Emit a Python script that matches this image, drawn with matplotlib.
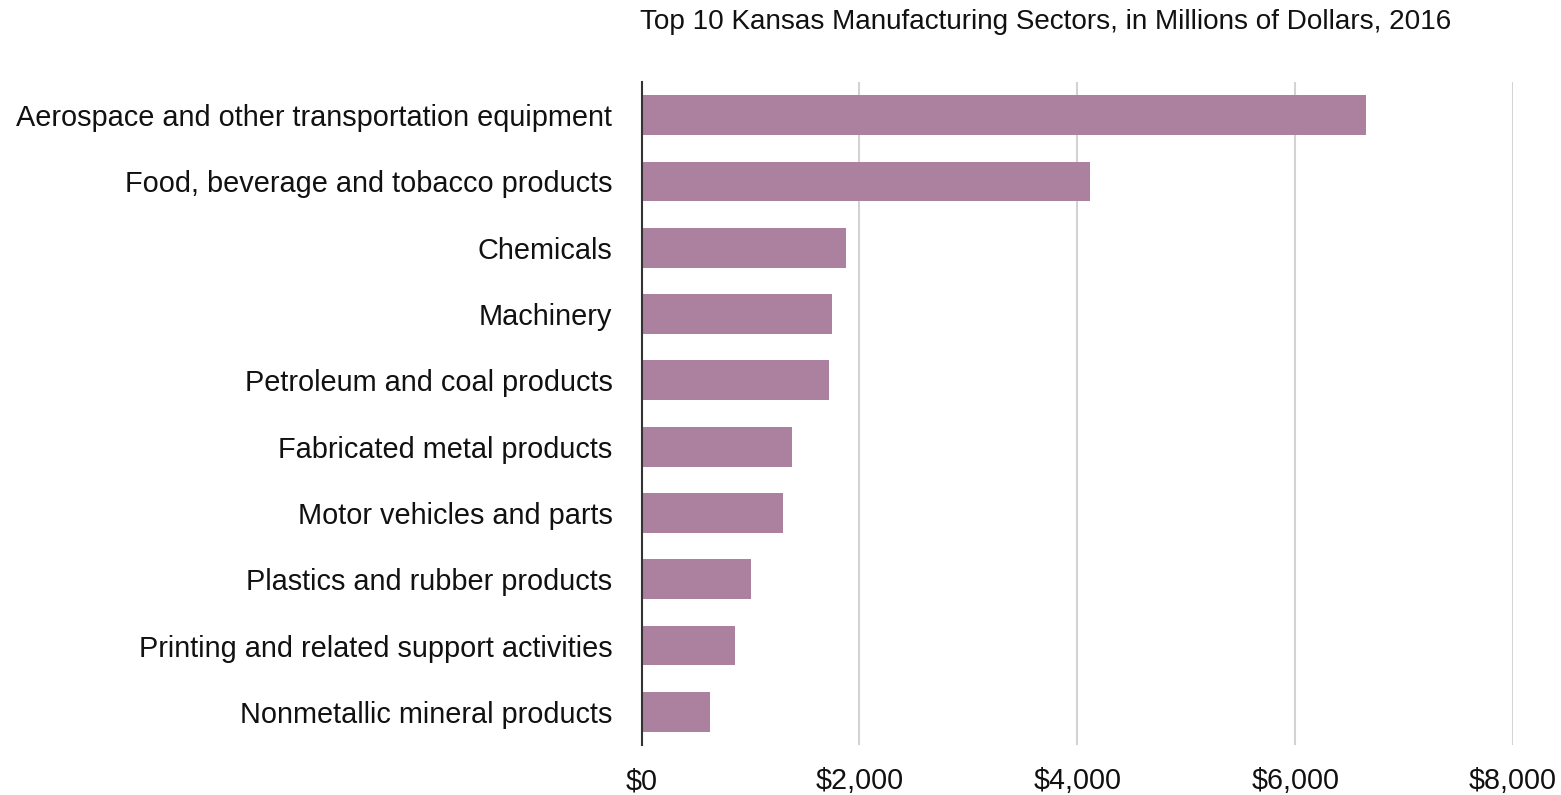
import matplotlib.pyplot as plt
from matplotlib.ticker import FuncFormatter

plt.rcParams['font.family'] = ['Liberation Sans', 'DejaVu Sans']

# sectors and output, millions of dollars
sectors = ['Aerospace and other transportation equipment',
           'Food, beverage and tobacco products',
           'Chemicals',
           'Machinery',
           'Petroleum and coal products',
           'Fabricated metal products',
           'Motor vehicles and parts',
           'Plastics and rubber products',
           'Printing and related support activities',
           'Nonmetallic mineral products']
values = [6650, 4120, 1875, 1745, 1725, 1385, 1300, 1000, 860, 632]
xticks = [0, 2000, 4000, 6000, 8000]

fig = plt.figure(figsize=(15.61, 7.95), dpi=100)
ax = fig.add_axes([0.411, 0.0629, 0.5583, 0.834])

ax.barh(range(len(sectors)), values, height=0.6, color='#ac809f', zorder=3)
ax.set_yticks(range(len(sectors)))
ax.set_yticklabels(sectors, fontsize=20.8, color='#111111')
ax.set_ylim(len(sectors) - 0.5, -0.5)

ax.set_xlim(0, 8000)
ax.set_xticks(xticks)
ax.xaxis.set_major_formatter(FuncFormatter(lambda v, p: '${:,.0f}'.format(v)))
ax.tick_params(axis='x', labelsize=20.7, length=0, pad=16, colors='#111111')
ax.tick_params(axis='y', length=0, pad=21)
ax.grid(axis='x', color='#d3d3d3', linewidth=1.5, zorder=0)

for s in ['top', 'right', 'bottom']:
    ax.spines[s].set_visible(False)
ax.spines['left'].set_color('#333333')
ax.spines['left'].set_linewidth(1.5)
ax.spines['left'].set_zorder(4)

fig.text(0.67, 0.972, 'Top 10 Kansas Manufacturing Sectors, in Millions of Dollars, 2016',
         ha='center', va='center', fontsize=20.1, color='#111111')

fig.savefig('out.png', dpi=100)
